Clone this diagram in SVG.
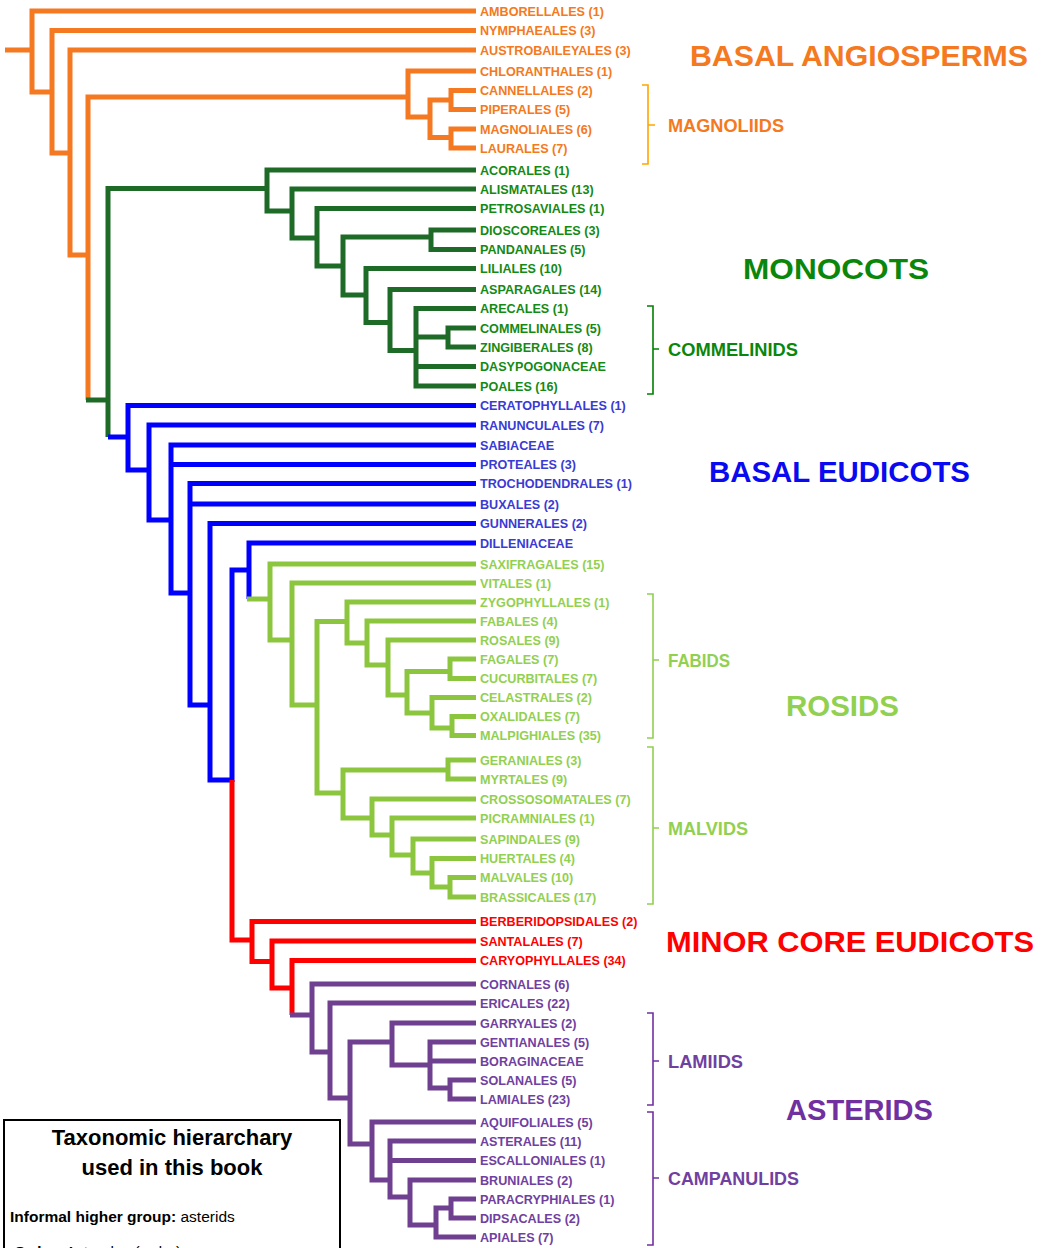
<svg xmlns="http://www.w3.org/2000/svg" width="1045" height="1248" viewBox="0 0 1045 1248">
<style>
.ln{fill:none;stroke-width:5;stroke-linejoin:miter;stroke-linecap:butt}
.or{stroke:#F47920}.dg{stroke:#1E6B28}.bl{stroke:#0000FF}.lg{stroke:#8CC63F}.rd{stroke:#FF0000}.pu{stroke:#6F3F90}
.br{fill:none;stroke-width:1.6}
text{font-family:"Liberation Sans",Arial,sans-serif;font-weight:bold}
.lf{font-size:12.6px}
.sub{font-size:18px}
.big{font-size:30px}
.tor{fill:#F47920}.tdg{fill:#148A14}.tbl{fill:#3A3AD4}.tlg{fill:#92D050}.trd{fill:#FF0000}.tpu{fill:#7040A0}
</style>
<rect width="1045" height="1248" fill="#FFFFFF"/>
<g id="connectors">
<path class="ln or" d="M5 50H32M476 11H32V92H52M476 30.5H52V153H70M476 50H70V255H88M408 97H88V400M476 71H408V117H430M451 100H430V137.5H451M476 90.5H451V109.5H476M476 129H451V148H476"/>
<path class="ln dg" d="M86 400H108M267 188.5H108V437M476 170H267V211H292M476 189H292V238H317M476 208.5H317V266H343M431 237H343V295H366M476 230H431V249.5H476M476 268.5H366V322.5H390M476 289.5H390V350.5H416M476 308.5H416V386H476M416 337H448M476 366.5H416M476 328H448V347H476"/>
<path class="ln bl" d="M108 437H128M476 405.5H128V470H149M476 425H149V520H171M476 445H171V593H190M171 464.5H476M476 483.5H190V705H210M190 504H476M476 523.5H210V780H232M249 570H232V782M476 543H249V599"/>
<path class="ln lg" d="M247 599H270M476 564H270V640H292M476 583H292V705H317M347 621.5H317V793H343M476 602H347V643H367M476 621H367V665H388M476 640H388V695H407M450 671.5H407V713H432M476 659H450V678.5H476M476 697.5H432V728H452M476 716.5H452V735.5H476M448 770H343V818H372M476 760H448V779H476M476 799H372V835H392M476 818H392V855H413M476 839H413V873H432M476 858.5H432V887H450M476 877.5H450V897H476"/>
<path class="ln rd" d="M232 780V940H252M476 921.5H252V961.5H272M476 941H272V988H292M476 960.5H292V1015"/>
<path class="ln pu" d="M290 1015H312M476 984H312V1052H330M476 1003H330V1098H350M392 1042H350V1144H372M476 1023H392V1065H430M476 1042H430V1088H450M430 1061H476M476 1080H450V1099H476M476 1122H372V1180H390M476 1141H390V1197H410M390 1160.5H476M476 1180H410V1225H436M451 1208H436V1237H476M476 1199H451V1218H476"/>
</g>
<g id="brackets">
<path class="br" stroke="#FFA500" d="M642 85H648V164H642M648 125H655"/>
<path class="br" stroke="#008000" d="M647 306H653V394H647M653 349H659"/>
<path class="br" stroke="#92D050" d="M647 594H653V738H647M653 660H659"/>
<path class="br" stroke="#92D050" d="M647 747H653V904H647M653 828H659"/>
<path class="br" stroke="#7030A0" d="M647 1013H653V1105H647M653 1061H659"/>
<path class="br" stroke="#7030A0" d="M647 1112H653V1245H647M653 1178H659"/>
</g>
<g id="leaves-basal" class="lf tor">
<g id="n-amborellales"><text x="480" y="16">AMBORELLALES (1)</text></g>
<g id="n-nymphaeales"><text x="480" y="35">NYMPHAEALES (3)</text></g>
<g id="n-austrobaileyales"><text x="480" y="54.5">AUSTROBAILEYALES (3)</text></g>
<g id="n-chloranthales"><text x="480" y="75.5">CHLORANTHALES (1)</text></g>
<g id="n-cannellales"><text x="480" y="95">CANNELLALES (2)</text></g>
<g id="n-piperales"><text x="480" y="114">PIPERALES (5)</text></g>
<g id="n-magnoliales"><text x="480" y="133.5">MAGNOLIALES (6)</text></g>
<g id="n-laurales"><text x="480" y="152.5">LAURALES (7)</text></g>
</g>
<g id="leaves-monocots" class="lf tdg">
<g id="n-acorales"><text x="480" y="174.5">ACORALES (1)</text></g>
<g id="n-alismatales"><text x="480" y="193.5">ALISMATALES (13)</text></g>
<g id="n-petrosaviales"><text x="480" y="213">PETROSAVIALES (1)</text></g>
<g id="n-dioscoreales"><text x="480" y="234.5">DIOSCOREALES (3)</text></g>
<g id="n-pandanales"><text x="480" y="254">PANDANALES (5)</text></g>
<g id="n-liliales"><text x="480" y="273">LILIALES (10)</text></g>
<g id="n-asparagales"><text x="480" y="294">ASPARAGALES (14)</text></g>
<g id="n-arecales"><text x="480" y="313">ARECALES (1)</text></g>
<g id="n-commelinales"><text x="480" y="332.5">COMMELINALES (5)</text></g>
<g id="n-zingiberales"><text x="480" y="351.5">ZINGIBERALES (8)</text></g>
<g id="n-dasypogonaceae"><text x="480" y="371">DASYPOGONACEAE</text></g>
<g id="n-poales"><text x="480" y="390.5">POALES (16)</text></g>
</g>
<g id="leaves-basal-eudicots" class="lf tbl">
<g id="n-ceratophyllales"><text x="480" y="410">CERATOPHYLLALES (1)</text></g>
<g id="n-ranunculales"><text x="480" y="429.5">RANUNCULALES (7)</text></g>
<g id="n-sabiaceae"><text x="480" y="449.5">SABIACEAE</text></g>
<g id="n-proteales"><text x="480" y="469">PROTEALES (3)</text></g>
<g id="n-trochodendrales"><text x="480" y="488">TROCHODENDRALES (1)</text></g>
<g id="n-buxales"><text x="480" y="508.5">BUXALES (2)</text></g>
<g id="n-gunnerales"><text x="480" y="528">GUNNERALES (2)</text></g>
<g id="n-dilleniaceae"><text x="480" y="547.5">DILLENIACEAE</text></g>
</g>
<g id="leaves-rosids" class="lf tlg">
<g id="n-saxifragales"><text x="480" y="568.5">SAXIFRAGALES (15)</text></g>
<g id="n-vitales"><text x="480" y="587.5">VITALES (1)</text></g>
<g id="n-zygophyllales"><text x="480" y="606.5">ZYGOPHYLLALES (1)</text></g>
<g id="n-fabales"><text x="480" y="625.5">FABALES (4)</text></g>
<g id="n-rosales"><text x="480" y="644.5">ROSALES (9)</text></g>
<g id="n-fagales"><text x="480" y="663.5">FAGALES (7)</text></g>
<g id="n-cucurbitales"><text x="480" y="683">CUCURBITALES (7)</text></g>
<g id="n-celastrales"><text x="480" y="702">CELASTRALES (2)</text></g>
<g id="n-oxalidales"><text x="480" y="721">OXALIDALES (7)</text></g>
<g id="n-malpighiales"><text x="480" y="740">MALPIGHIALES (35)</text></g>
<g id="n-geraniales"><text x="480" y="764.5">GERANIALES (3)</text></g>
<g id="n-myrtales"><text x="480" y="783.5">MYRTALES (9)</text></g>
<g id="n-crossosomatales"><text x="480" y="803.5">CROSSOSOMATALES (7)</text></g>
<g id="n-picramniales"><text x="480" y="822.5">PICRAMNIALES (1)</text></g>
<g id="n-sapindales"><text x="480" y="843.5">SAPINDALES (9)</text></g>
<g id="n-huertales"><text x="480" y="863">HUERTALES (4)</text></g>
<g id="n-malvales"><text x="480" y="882">MALVALES (10)</text></g>
<g id="n-brassicales"><text x="480" y="901.5">BRASSICALES (17)</text></g>
</g>
<g id="leaves-minor" class="lf trd">
<g id="n-berberidopsidales"><text x="480" y="926">BERBERIDOPSIDALES (2)</text></g>
<g id="n-santalales"><text x="480" y="945.5">SANTALALES (7)</text></g>
<g id="n-caryophyllales"><text x="480" y="965">CARYOPHYLLALES (34)</text></g>
</g>
<g id="leaves-asterids" class="lf tpu">
<g id="n-cornales"><text x="480" y="988.5">CORNALES (6)</text></g>
<g id="n-ericales"><text x="480" y="1007.5">ERICALES (22)</text></g>
<g id="n-garryales"><text x="480" y="1027.5">GARRYALES (2)</text></g>
<g id="n-gentianales"><text x="480" y="1046.5">GENTIANALES (5)</text></g>
<g id="n-boraginaceae"><text x="480" y="1065.5">BORAGINACEAE</text></g>
<g id="n-solanales"><text x="480" y="1084.5">SOLANALES (5)</text></g>
<g id="n-lamiales"><text x="480" y="1103.5">LAMIALES (23)</text></g>
<g id="n-aquifoliales"><text x="480" y="1126.5">AQUIFOLIALES (5)</text></g>
<g id="n-asterales"><text x="480" y="1145.5">ASTERALES (11)</text></g>
<g id="n-escalloniales"><text x="480" y="1165">ESCALLONIALES (1)</text></g>
<g id="n-bruniales"><text x="480" y="1184.5">BRUNIALES (2)</text></g>
<g id="n-paracryphiales"><text x="480" y="1203.5">PARACRYPHIALES (1)</text></g>
<g id="n-dipsacales"><text x="480" y="1222.5">DIPSACALES (2)</text></g>
<g id="n-apiales"><text x="480" y="1241.5">APIALES (7)</text></g>
</g>
<g id="group-labels">
<g id="g-basal-angiosperms"><text class="big tor" x="690" y="66" textLength="338" lengthAdjust="spacingAndGlyphs">BASAL ANGIOSPERMS</text></g>
<g id="g-magnoliids"><text class="sub tor" x="668" y="131.5" textLength="116" lengthAdjust="spacingAndGlyphs">MAGNOLIIDS</text></g>
<g id="g-monocots"><text class="big" fill="#0A870A" x="743" y="279" textLength="186" lengthAdjust="spacingAndGlyphs">MONOCOTS</text></g>
<g id="g-commelinids"><text class="sub" fill="#0A870A" x="668" y="355.5" textLength="130" lengthAdjust="spacingAndGlyphs">COMMELINIDS</text></g>
<g id="g-basal-eudicots"><text class="big" fill="#0A0AF0" x="709" y="482" textLength="261" lengthAdjust="spacingAndGlyphs">BASAL EUDICOTS</text></g>
<g id="g-fabids"><text class="sub tlg" x="668" y="666.5" textLength="62" lengthAdjust="spacingAndGlyphs">FABIDS</text></g>
<g id="g-rosids"><text class="big tlg" x="786" y="716" textLength="113" lengthAdjust="spacingAndGlyphs">ROSIDS</text></g>
<g id="g-malvids"><text class="sub tlg" x="668" y="834.5" textLength="80" lengthAdjust="spacingAndGlyphs">MALVIDS</text></g>
<g id="g-minor-core-eudicots"><text class="big trd" x="666" y="952" textLength="368" lengthAdjust="spacingAndGlyphs">MINOR CORE EUDICOTS</text></g>
<g id="g-lamiids"><text class="sub tpu" x="668" y="1067.5" textLength="75" lengthAdjust="spacingAndGlyphs">LAMIIDS</text></g>
<g id="g-asterids"><text class="big" fill="#7030A0" x="786" y="1120" textLength="147" lengthAdjust="spacingAndGlyphs">ASTERIDS</text></g>
<g id="g-campanulids"><text class="sub tpu" x="668" y="1184.5" textLength="131" lengthAdjust="spacingAndGlyphs">CAMPANULIDS</text></g>
</g>
<g id="legend-box">
<rect x="4" y="1120" width="336" height="140" fill="#FFFFFF" stroke="#000000" stroke-width="2"/>
<text x="172" y="1145" text-anchor="middle" font-size="22" fill="#000">Taxonomic hierarchary</text>
<text x="172" y="1175" text-anchor="middle" font-size="22" fill="#000">used in this book</text>
<text x="10" y="1222" font-size="15.5" fill="#000">Informal higher group: <tspan font-weight="normal">asterids</tspan></text>
<text x="14" y="1257" font-size="15.5" fill="#000">Order: <tspan font-weight="normal">Asterales (order)</tspan></text>
</g>
</svg>
